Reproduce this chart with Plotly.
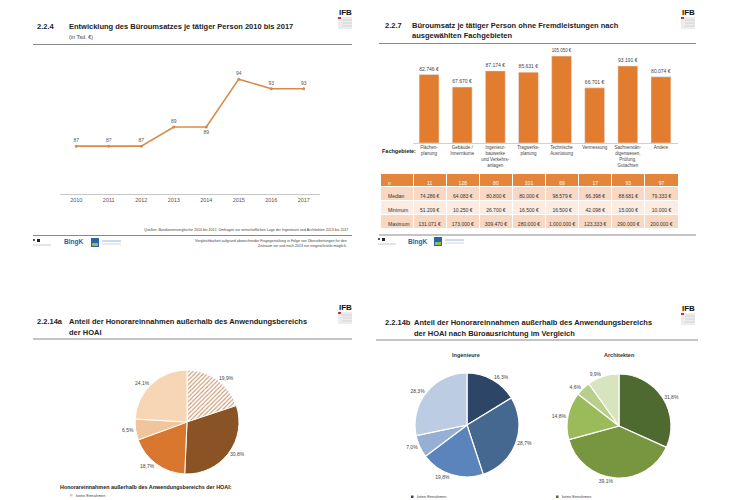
import plotly.graph_objects as go

W, H = 738, 500
FONT = "Liberation Sans, Arial, sans-serif"
NBSP = "\u00a0"

# ---------- data ----------
years = [2010, 2011, 2012, 2013, 2014, 2015, 2016, 2017]
umsatz_tsd = [87, 87, 87, 89, 89, 94, 93, 93]

fachgebiete = ["Flächen-<br>planung", "Gebäude /<br>Innenräume", "Ingenieur-<br>bauwerke<br>und Verkehrs-<br>anlagen",
               "Tragwerks-<br>planung", "Technische<br>Ausrüstung", "Vermessung",
               "Sachverstän-<br>digenwesen,<br>Prüfung,<br>Gutachten", "Andere"]
umsatz_fach = [82746, 67670, 87174, 85631, 105050, 66701, 93191, 80074]
n_values = [11, 128, 80, 101, 69, 17, 93, 97]
median_vals = [74286, 64083, 80800, 80000, 98579, 66398, 88681, 79333]
minimum_vals = [51209, 10250, 26700, 16500, 16500, 42098, 15000, 10000]
maximum_vals = [131071, 173000, 309470, 280000, 1000000, 123333, 290000, 200000]
row_names = ["Median", "Minimum", "Maximum"]

pie_labels = ["keine Einnahmen", "bis 10 %", "10 bis 25 %", "25 bis 50 %", "über 50 %"]
gesamt_share = [19.9, 30.8, 18.7, 6.5, 24.1]
ingenieure_share = [16.3, 28.7, 19.8, 7.0, 28.3]
architekten_share = [31.8, 39.1, 14.8, 4.6, 9.9]


def eur(v):
    return f"{v:,}".replace(",", ".") + NBSP + "€"


def pct(v):
    return f"{v:.1f}".replace(".", ",") + "%"


def px(x):
    return x / W


def py(y):
    return 1 - y / H


fig = go.Figure()

# ---------- panel 1: line ----------
fig.add_trace(go.Scatter(
    x=years, y=umsatz_tsd, mode="lines+markers+text",
    text=[str(v) for v in umsatz_tsd],
    textposition=["top center"] * 4 + ["bottom center"] + ["top center"] * 3,
    textfont=dict(size=5, color="#555", family=FONT),
    line=dict(color="#d98a45", width=1.6),
    marker=dict(size=3, color="#d98a45"),
    xaxis="x", yaxis="y", cliponaxis=False, showlegend=False, hoverinfo="skip"))

# ---------- panel 2: bars ----------
fig.add_trace(go.Bar(
    x=list(range(len(umsatz_fach))), y=umsatz_fach,
    text=[eur(v) for v in umsatz_fach], textposition="outside",
    textfont=dict(size=5, color="#444", family=FONT),
    marker=dict(color="#e27d30"), width=0.6,
    xaxis="x2", yaxis="y2", cliponaxis=False, showlegend=False, hoverinfo="skip"))

# ---------- panel 2: table ----------
row_fills = ["#f8d8c2", "#fcebe0", "#f8d8c2"]
cols = [row_names] + [[eur(median_vals[i]), eur(minimum_vals[i]), eur(maximum_vals[i])] for i in range(8)]
fig.add_trace(go.Table(
    domain=dict(x=[px(380), px(678)], y=[py(230), py(173)]),
    columnwidth=[1] * 9,
    header=dict(values=["n"] + [str(v) for v in n_values],
                fill_color="#e3853a", line=dict(color="white", width=1),
                font=dict(size=5, color="white", family=FONT),
                align=["left"] + ["center"] * 8, height=13),
    cells=dict(values=cols, fill_color=[row_fills] * 9,
               line=dict(color="white", width=1),
               font=dict(size=5, color="#333", family=FONT),
               align=["left"] + ["center"] * 8, height=14)))

# ---------- pies ----------
pie_common = dict(sort=False, direction="clockwise", rotation=0, textinfo="text",
                  textposition="outside", showlegend=False, hoverinfo="skip",
                  textfont=dict(size=5, color="#444", family=FONT))

fig.add_trace(go.Pie(
    labels=pie_labels, values=gesamt_share, text=[pct(v) for v in gesamt_share],
    domain=dict(x=[px(135), px(239)], y=[py(474), py(370)]),
    marker=dict(colors=["#f6dcc3", "#8a5326", "#d8772d", "#f1c49b", "#f7d6b6"],
                line=dict(color="white", width=1),
                pattern=dict(shape=["/", "", "", "", ""], fgcolor="#c9946a",
                             size=3, solidity=0.35)),
    **pie_common))

fig.add_trace(go.Pie(
    labels=pie_labels, values=ingenieure_share, text=[pct(v) for v in ingenieure_share],
    domain=dict(x=[px(415), px(519)], y=[py(477), py(373)]),
    marker=dict(colors=["#2d4567", "#456890", "#5b84bc", "#95b0d2", "#bccde3"],
                line=dict(color="white", width=1.2)),
    **pie_common))

fig.add_trace(go.Pie(
    labels=pie_labels, values=architekten_share, text=[pct(v) for v in architekten_share],
    domain=dict(x=[px(567), px(671)], y=[py(478), py(374)]),
    marker=dict(colors=["#4e6a30", "#77963f", "#9bbb5a", "#b7cf8b", "#d7e4bd"],
                line=dict(color="white", width=1.2)),
    **pie_common))

# ---------- annotations ----------
ann = []


def txt(x, y, s, size=5, color="#333", xanchor="left", bold=False, yanchor="middle", align="left"):
    ann.append(dict(x=px(x), y=py(y), xref="paper", yref="paper", text=(f"<b>{s}</b>" if bold else s),
                    showarrow=False, xanchor=xanchor, yanchor=yanchor, align=align,
                    font=dict(size=size, color=color, family=FONT)))


# titles
txt(35, 26, "2.2.4", 7.5, "#222", bold=True)
txt(67, 26, "Entwicklung des Büroumsatzes je tätiger Person 2010 bis 2017", 7.5, "#222", bold=True)
txt(67, 37.5, "(in Tsd. €)", 5.5, "#444")

txt(383, 25, "2.2.7", 7.5, "#222", bold=True)
txt(410, 25, "Büroumsatz je tätiger Person ohne Fremdleistungen nach", 7.5, "#222", bold=True)
txt(410, 36, "ausgewählten Fachgebieten", 7.5, "#222", bold=True)

txt(35, 321, "2.2.14a", 7.5, "#222", bold=True)
txt(67, 321, "Anteil der Honorareinnahmen außerhalb des Anwendungsbereichs", 7.5, "#222", bold=True)
txt(67, 332, "der HOAI", 7.5, "#222", bold=True)

txt(383, 322, "2.2.14b", 7.5, "#222", bold=True)
txt(412, 322, "Anteil der Honorareinnahmen außerhalb des Anwendungsbereichs", 7.5, "#222", bold=True)
txt(412, 333, "der HOAI nach Büroausrichtung im Vergleich", 7.5, "#222", bold=True)

# footers panel 1
txt(350, 230, "Quellen: Bürokostenvergleiche 2010 bis 2012, Umfragen zur wirtschaftlichen Lage der Ingenieure und Architekten 2013 bis 2017",
    3.6, "#444", xanchor="right")
txt(349, 240.5, "Vergleichbarkeit aufgrund abweichender Fragegestaltung in Folge von Überarbeitungen für den",
    3.6, "#444", xanchor="right")
txt(349, 246, "Zeitraum vor und nach 2013 nur eingeschränkt möglich.", 3.6, "#444", xanchor="right")

# Fachgebiete label
txt(380, 151, "Fachgebiete:", 5.5, "#222", bold=True)

# pie titles / legends
txt(466, 355, "Ingenieure", 5.5, "#333", xanchor="center", bold=True)
txt(619, 355, "Architekten", 5.5, "#333", xanchor="center", bold=True)
txt(58, 487, "Honorareinnahmen außerhalb des Anwendungsbereichs der HOAI:", 5.4, "#222", bold=True)
txt(74, 495.5, "keine Einnahmen", 3.8, "#444")
txt(415, 496.5, "keine Einnahmen", 3.8, "#444")
txt(560, 496.5, "keine Einnahmen", 3.8, "#444")

# logos text
for (lx, ly) in [(345, 12), (688, 12), (345, 307), (688, 308)]:
    txt(lx, ly, "IFB", 8, "#111", xanchor="center", bold=True)
for (lx, ly) in [(62, 242), (406, 242)]:
    txt(lx, ly, "BIngK", 6.5, "#2a5ca8", bold=True)

# ---------- shapes ----------
shapes = []


def hline(x0, x1, y, color="#8a8a8a", width=1):
    shapes.append(dict(type="line", xref="paper", yref="paper", x0=px(x0), x1=px(x1), y0=py(y), y1=py(y),
                       line=dict(color=color, width=width)))


def rect(x0, y0, x1, y1, fill):
    shapes.append(dict(type="rect", xref="paper", yref="paper", x0=px(x0), x1=px(x1), y0=py(y1), y1=py(y0),
                       fillcolor=fill, line=dict(width=0)))


hline(33, 352, 44.5)
hline(33, 352, 235.5)
hline(379, 696, 43.5)
hline(379, 696, 235)
hline(33, 352, 339)
hline(376, 698, 340)

# IFB logo boxes
for (lx, ly) in [(338, 17), (681, 17), (338, 312), (681, 313)]:
    rect(lx, ly, lx + 14, ly + 12, "#ececec")
    rect(lx, ly, lx + 3, ly + 2, "#c0392b")
    for k in range(3):
        hline(lx + 4, lx + 14, ly + 3 + 3 * k, "#c8c8c8", 0.6)

# small footer logos
for (bx, by) in [(33, 238), (378, 237)]:
    rect(bx + 4, by + 1, bx + 7, by + 4, "#222")
    rect(bx, by + 1, bx + 2, by + 3, "#555")
    hline(bx, bx + 18, by + 7, "#bbb", 0.8)
for (bx, by) in [(91, 238), (434, 237)]:
    rect(bx, by, bx + 8, by + 9, "#2b63a6")
    rect(bx + 1, by + 5, bx + 7, by + 8, "#8fbf4a")
    hline(bx + 11, bx + 30, by + 3, "#9bb6d6", 1)
    hline(bx + 11, bx + 30, by + 6, "#c9d6e6", 1)

# legend markers
rect(70, 494, 72.5, 496.5, "#e8c8a8")
rect(411, 495.5, 413.5, 498, "#2d4567")
rect(556, 495.5, 558.5, 498, "#4e6a30")

fig.update_layout(
    width=W, height=H, margin=dict(l=0, r=0, t=0, b=0),
    paper_bgcolor="white", plot_bgcolor="white",
    font=dict(family=FONT, size=5, color="#333"),
    showlegend=False,
    xaxis=dict(domain=[px(60), px(320)], range=[2009.5, 2017.5], tickvals=years,
               showline=True, linecolor="#c8c8c8", linewidth=1, showgrid=False, zeroline=False,
               ticks="", tickfont=dict(size=5.5, color="#555"), fixedrange=True),
    yaxis=dict(domain=[py(194), py(60)], range=[82, 96], visible=False, fixedrange=True),
    xaxis2=dict(domain=[px(412.5), px(677.5)], range=[-0.5, 7.5], tickvals=list(range(8)),
                ticktext=fachgebiete, anchor="y2", showline=True, linecolor="#d0d0d0", linewidth=1,
                showgrid=False, zeroline=False, ticks="", tickfont=dict(size=4.5, color="#444"),
                fixedrange=True),
    yaxis2=dict(domain=[py(143), py(52)], range=[0, 110000], visible=False, anchor="x2", fixedrange=True),
    annotations=ann, shapes=shapes,
)

fig.write_html("out.html", config={"displayModeBar": False},
               post_script="document.body.style.margin='0';document.body.style.overflow='hidden';")
